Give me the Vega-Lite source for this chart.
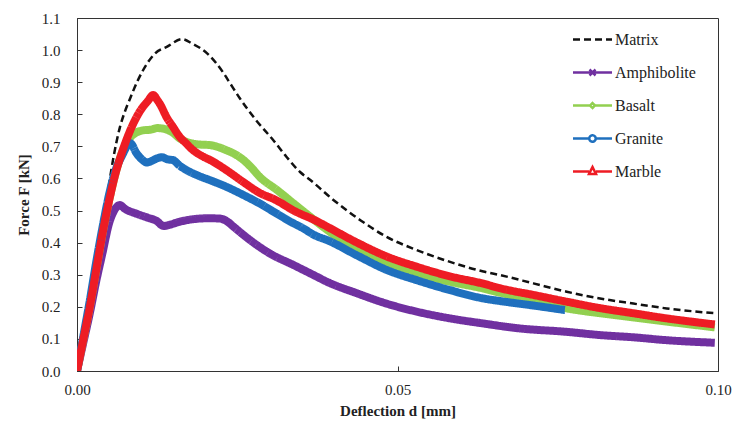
{
  "$schema": "https://vega.github.io/schema/vega-lite/v6.json",
  "width": 641,
  "height": 353,
  "autosize": {"type": "none"},
  "padding": {"left": 77, "top": 18, "right": 15, "bottom": 54},
  "background": "white",
  "config": {
    "view": {"stroke": "#333333", "strokeWidth": 1},
    "font": "Liberation Serif, Times New Roman, serif",
    "axis": {"grid": false, "labelFlush": false, "domainColor": "#333333", "tickColor": "#333333", "labelColor": "#222222", "titleColor": "#222222", "labelFont": "Liberation Serif, Times New Roman, serif", "titleFont": "Liberation Serif, Times New Roman, serif", "labelFontSize": 15, "titleFontSize": 15, "titleFontWeight": "bold"}
  },
  "data": {"values": [
    {"s":"Matrix","d":0,"f":0},{"s":"Matrix","d":0.001,"f":0.11},{"s":"Matrix","d":0.002,"f":0.22},{"s":"Matrix","d":0.003,"f":0.34},{"s":"Matrix","d":0.004,"f":0.46},{"s":"Matrix","d":0.0046,"f":0.53},{"s":"Matrix","d":0.0057,"f":0.667},{"s":"Matrix","d":0.0067,"f":0.76},{"s":"Matrix","d":0.0075,"f":0.81},{"s":"Matrix","d":0.0083,"f":0.85},{"s":"Matrix","d":0.0095,"f":0.906},{"s":"Matrix","d":0.011,"f":0.96},{"s":"Matrix","d":0.0122,"f":0.99},{"s":"Matrix","d":0.014,"f":1.01},{"s":"Matrix","d":0.0164,"f":1.034},{"s":"Matrix","d":0.018,"f":1.02},{"s":"Matrix","d":0.0203,"f":0.99},{"s":"Matrix","d":0.0228,"f":0.93},{"s":"Matrix","d":0.0239,"f":0.896},{"s":"Matrix","d":0.0254,"f":0.85},{"s":"Matrix","d":0.028,"f":0.78},{"s":"Matrix","d":0.0306,"f":0.72},{"s":"Matrix","d":0.0327,"f":0.667},{"s":"Matrix","d":0.0348,"f":0.62},{"s":"Matrix","d":0.0364,"f":0.595},{"s":"Matrix","d":0.04,"f":0.533},{"s":"Matrix","d":0.0442,"f":0.47},{"s":"Matrix","d":0.0483,"f":0.418},{"s":"Matrix","d":0.053,"f":0.377},{"s":"Matrix","d":0.0582,"f":0.34},{"s":"Matrix","d":0.0634,"f":0.31},{"s":"Matrix","d":0.066,"f":0.299},{"s":"Matrix","d":0.0712,"f":0.273},{"s":"Matrix","d":0.0764,"f":0.247},{"s":"Matrix","d":0.0816,"f":0.226},{"s":"Matrix","d":0.0868,"f":0.21},{"s":"Matrix","d":0.092,"f":0.195},{"s":"Matrix","d":0.0995,"f":0.18},

    {"s":"Amphibolite","d":0,"f":0},{"s":"Amphibolite","d":0.001,"f":0.09},{"s":"Amphibolite","d":0.002,"f":0.18},{"s":"Amphibolite","d":0.003,"f":0.28},{"s":"Amphibolite","d":0.004,"f":0.37},{"s":"Amphibolite","d":0.005,"f":0.46},{"s":"Amphibolite","d":0.0058,"f":0.5},{"s":"Amphibolite","d":0.0067,"f":0.517},{"s":"Amphibolite","d":0.0075,"f":0.505},{"s":"Amphibolite","d":0.0093,"f":0.49},{"s":"Amphibolite","d":0.011,"f":0.478},{"s":"Amphibolite","d":0.0124,"f":0.468},{"s":"Amphibolite","d":0.0135,"f":0.452},{"s":"Amphibolite","d":0.0145,"f":0.456},{"s":"Amphibolite","d":0.016,"f":0.465},{"s":"Amphibolite","d":0.0181,"f":0.473},{"s":"Amphibolite","d":0.0205,"f":0.476},{"s":"Amphibolite","d":0.0223,"f":0.475},{"s":"Amphibolite","d":0.0235,"f":0.465},{"s":"Amphibolite","d":0.0244,"f":0.45},{"s":"Amphibolite","d":0.027,"f":0.408},{"s":"Amphibolite","d":0.0301,"f":0.366},{"s":"Amphibolite","d":0.0338,"f":0.33},{"s":"Amphibolite","d":0.0374,"f":0.294},{"s":"Amphibolite","d":0.039,"f":0.278},{"s":"Amphibolite","d":0.0437,"f":0.242},{"s":"Amphibolite","d":0.0483,"f":0.21},{"s":"Amphibolite","d":0.053,"f":0.185},{"s":"Amphibolite","d":0.0582,"f":0.164},{"s":"Amphibolite","d":0.0634,"f":0.148},{"s":"Amphibolite","d":0.0689,"f":0.133},{"s":"Amphibolite","d":0.0764,"f":0.122},{"s":"Amphibolite","d":0.0816,"f":0.112},{"s":"Amphibolite","d":0.0868,"f":0.105},{"s":"Amphibolite","d":0.092,"f":0.096},{"s":"Amphibolite","d":0.0995,"f":0.088},

    {"s":"Basalt","d":0,"f":0},{"s":"Basalt","d":0.001,"f":0.1},{"s":"Basalt","d":0.002,"f":0.2},{"s":"Basalt","d":0.003,"f":0.315},{"s":"Basalt","d":0.004,"f":0.43},{"s":"Basalt","d":0.005,"f":0.53},{"s":"Basalt","d":0.006,"f":0.615},{"s":"Basalt","d":0.007,"f":0.68},{"s":"Basalt","d":0.008,"f":0.72},{"s":"Basalt","d":0.009,"f":0.74},{"s":"Basalt","d":0.0103,"f":0.75},{"s":"Basalt","d":0.0115,"f":0.752},{"s":"Basalt","d":0.0125,"f":0.757},{"s":"Basalt","d":0.0135,"f":0.755},{"s":"Basalt","d":0.015,"f":0.742},{"s":"Basalt","d":0.016,"f":0.725},{"s":"Basalt","d":0.0171,"f":0.714},{"s":"Basalt","d":0.019,"f":0.706},{"s":"Basalt","d":0.0207,"f":0.704},{"s":"Basalt","d":0.022,"f":0.698},{"s":"Basalt","d":0.0233,"f":0.688},{"s":"Basalt","d":0.0247,"f":0.675},{"s":"Basalt","d":0.026,"f":0.657},{"s":"Basalt","d":0.0273,"f":0.632},{"s":"Basalt","d":0.0285,"f":0.605},{"s":"Basalt","d":0.0312,"f":0.564},{"s":"Basalt","d":0.0338,"f":0.522},{"s":"Basalt","d":0.0358,"f":0.49},{"s":"Basalt","d":0.039,"f":0.44},{"s":"Basalt","d":0.0437,"f":0.377},{"s":"Basalt","d":0.0483,"f":0.335},{"s":"Basalt","d":0.053,"f":0.304},{"s":"Basalt","d":0.0582,"f":0.278},{"s":"Basalt","d":0.0634,"f":0.257},{"s":"Basalt","d":0.066,"f":0.244},{"s":"Basalt","d":0.0712,"f":0.218},{"s":"Basalt","d":0.0764,"f":0.195},{"s":"Basalt","d":0.0816,"f":0.18},{"s":"Basalt","d":0.0868,"f":0.167},{"s":"Basalt","d":0.092,"f":0.154},{"s":"Basalt","d":0.0995,"f":0.136},

    {"s":"Granite","d":0,"f":0},{"s":"Granite","d":0.001,"f":0.11},{"s":"Granite","d":0.002,"f":0.22},{"s":"Granite","d":0.003,"f":0.34},{"s":"Granite","d":0.004,"f":0.45},{"s":"Granite","d":0.005,"f":0.55},{"s":"Granite","d":0.006,"f":0.625},{"s":"Granite","d":0.007,"f":0.67},{"s":"Granite","d":0.0083,"f":0.71},{"s":"Granite","d":0.0093,"f":0.678},{"s":"Granite","d":0.0101,"f":0.66},{"s":"Granite","d":0.0109,"f":0.65},{"s":"Granite","d":0.0117,"f":0.655},{"s":"Granite","d":0.0124,"f":0.662},{"s":"Granite","d":0.0133,"f":0.666},{"s":"Granite","d":0.014,"f":0.66},{"s":"Granite","d":0.015,"f":0.657},{"s":"Granite","d":0.016,"f":0.64},{"s":"Granite","d":0.0171,"f":0.626},{"s":"Granite","d":0.019,"f":0.608},{"s":"Granite","d":0.0207,"f":0.595},{"s":"Granite","d":0.0233,"f":0.574},{"s":"Granite","d":0.026,"f":0.548},{"s":"Granite","d":0.0285,"f":0.522},{"s":"Granite","d":0.0312,"f":0.49},{"s":"Granite","d":0.0338,"f":0.46},{"s":"Granite","d":0.0348,"f":0.45},{"s":"Granite","d":0.0374,"f":0.42},{"s":"Granite","d":0.039,"f":0.408},{"s":"Granite","d":0.0437,"f":0.36},{"s":"Granite","d":0.0483,"f":0.315},{"s":"Granite","d":0.053,"f":0.283},{"s":"Granite","d":0.0582,"f":0.252},{"s":"Granite","d":0.0634,"f":0.226},{"s":"Granite","d":0.066,"f":0.218},{"s":"Granite","d":0.0712,"f":0.204},{"s":"Granite","d":0.0761,"f":0.19},

    {"s":"Marble","d":0,"f":0},{"s":"Marble","d":0.001,"f":0.1},{"s":"Marble","d":0.002,"f":0.2},{"s":"Marble","d":0.003,"f":0.315},{"s":"Marble","d":0.004,"f":0.43},{"s":"Marble","d":0.005,"f":0.53},{"s":"Marble","d":0.006,"f":0.615},{"s":"Marble","d":0.007,"f":0.68},{"s":"Marble","d":0.008,"f":0.735},{"s":"Marble","d":0.009,"f":0.78},{"s":"Marble","d":0.01,"f":0.815},{"s":"Marble","d":0.011,"f":0.84},{"s":"Marble","d":0.0119,"f":0.86},{"s":"Marble","d":0.0125,"f":0.845},{"s":"Marble","d":0.013,"f":0.83},{"s":"Marble","d":0.014,"f":0.79},{"s":"Marble","d":0.015,"f":0.76},{"s":"Marble","d":0.016,"f":0.73},{"s":"Marble","d":0.017,"f":0.71},{"s":"Marble","d":0.018,"f":0.69},{"s":"Marble","d":0.0195,"f":0.67},{"s":"Marble","d":0.021,"f":0.655},{"s":"Marble","d":0.0233,"f":0.626},{"s":"Marble","d":0.026,"f":0.588},{"s":"Marble","d":0.0285,"f":0.555},{"s":"Marble","d":0.031,"f":0.533},{"s":"Marble","d":0.0338,"f":0.5},{"s":"Marble","d":0.0374,"f":0.467},{"s":"Marble","d":0.039,"f":0.45},{"s":"Marble","d":0.0437,"f":0.4},{"s":"Marble","d":0.0483,"f":0.357},{"s":"Marble","d":0.053,"f":0.325},{"s":"Marble","d":0.0582,"f":0.295},{"s":"Marble","d":0.0634,"f":0.272},{"s":"Marble","d":0.066,"f":0.258},{"s":"Marble","d":0.0712,"f":0.237},{"s":"Marble","d":0.0764,"f":0.216},{"s":"Marble","d":0.0816,"f":0.196},{"s":"Marble","d":0.0868,"f":0.18},{"s":"Marble","d":0.092,"f":0.164},{"s":"Marble","d":0.0995,"f":0.145}
  ]},
  "mark": {"type": "line", "strokeCap": "butt", "strokeJoin": "round", "interpolate": "monotone", "clip": true},
  "encoding": {
    "x": {"field": "d", "type": "quantitative", "scale": {"domain": [0, 0.1], "nice": false},
      "axis": {"values": [0, 0.05, 0.1], "format": ".2f", "tickSize": -5, "labelPadding": 16, "title": "Deflection d [mm]", "titlePadding": 6}},
    "y": {"field": "f", "type": "quantitative", "scale": {"domain": [0, 1.1], "nice": false},
      "axis": {"values": [0, 0.1, 0.2, 0.3, 0.4, 0.5, 0.6, 0.7, 0.8, 0.9, 1.0, 1.1], "format": ".1f", "tickSize": -5, "labelPadding": 22, "title": "Force F [kN]", "titlePadding": 10}},
    "order": {"field": "d", "type": "quantitative"},
    "color": {"field": "s", "type": "nominal",
      "scale": {"domain": ["Matrix", "Amphibolite", "Basalt", "Granite", "Marble"], "range": ["#111111", "#7030a0", "#92d050", "#1f70be", "#ee1c24"]},
      "legend": {"title": null, "orient": "none", "legendX": 504, "legendY": 10, "symbolSize": 400, "rowPadding": 13, "labelOffset": 11, "labelFont": "Liberation Serif, Times New Roman, serif", "labelFontSize": 16, "labelColor": "#222222", "padding": 0,
        "encode": {"symbols": {"update": {
          "shape": {"signal": "datum.value==='Matrix' ? 'M-1.95,0H1.95' : datum.value==='Amphibolite' ? 'M-1.95,0H1.95M-0.3,-0.3L0.3,0.3M-0.3,0.3L0.3,-0.3' : datum.value==='Basalt' ? 'M-1.95,0H-0.25M0.25,0H1.95M-0.25,0L0,-0.25L0.25,0L0,0.25Z' : datum.value==='Granite' ? 'M-1.95,0H-0.32M0.32,0H1.95M-0.32,0A0.32,0.32,0,1,0,0.32,0A0.32,0.32,0,1,0,-0.32,0' : 'M-1.95,0H-0.35M0.35,0H1.95M-0.35,0.25L0,-0.45L0.35,0.25Z'"},
          "strokeDash": {"signal": "datum.value==='Matrix' ? [7,4] : [1,0]"},
          "strokeWidth": {"value": 2.5},
          "fill": {"value": "transparent"}
        }}}}},
    "strokeDash": {"condition": {"test": "datum.s==='Matrix'", "value": [7, 4]}, "value": [1, 0]},
    "strokeWidth": {"condition": {"test": "datum.s==='Matrix'", "value": 2.5}, "value": 8}
  }
}
